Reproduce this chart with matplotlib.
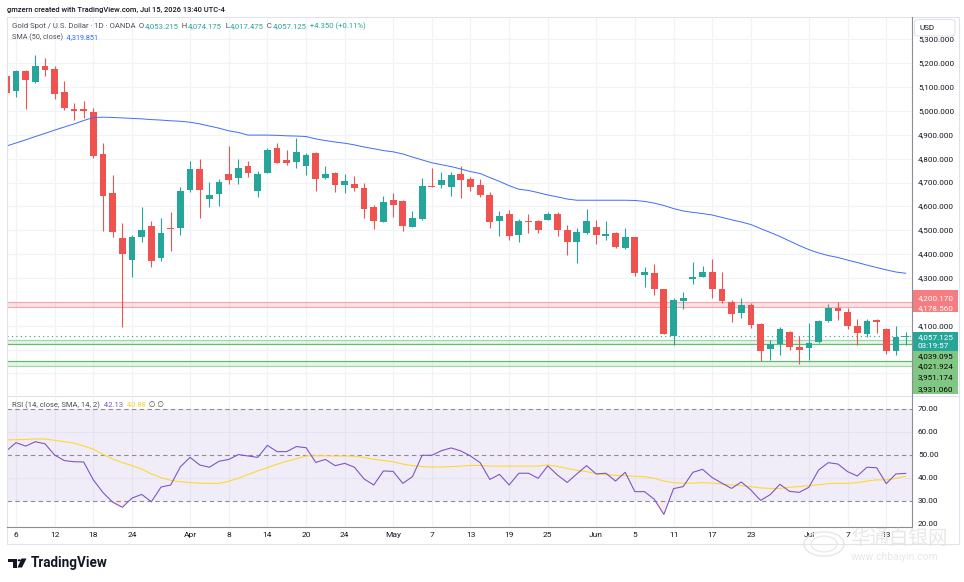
import matplotlib
matplotlib.use('Agg')
import matplotlib.pyplot as plt
import matplotlib.transforms as mtransforms
from matplotlib.patches import Rectangle, FancyBboxPatch, Polygon, Circle
import numpy as np

plt.rcParams['font.family'] = ['Roboto', 'DejaVu Sans']

# ---------------- data ----------------
opens = [5148, 5085, 5168, 5123, 5189, 5176, 5080, 5010, 5008, 4996,
         4821, 4655, 4468, 4377, 4473, 4518, 4385, 4508, 4511, 4668,
         4757, 4632, 4653, 4736, 4720, 4770, 4666, 4741, 4845, 4795,
         4786, 4770, 4823, 4720, 4741, 4690, 4694, 4677, 4596, 4536,
         4626, 4623, 4515, 4546, 4686, 4691, 4683, 4736, 4715, 4689,
         4648, 4540, 4567, 4479, 4537, 4539, 4544, 4567, 4501, 4451,
         4490, 4515, 4477, 4487, 4427, 4472, 4314, 4320, 4253, 4058,
         4205, 4297, 4305, 4325, 4253, 4199, 4152, 4187, 4107, 4001,
         4023, 4072, 4011, 4008, 4033, 4120, 4173, 4157, 4100, 4067,
         4123, 4086, 3995, 4053.215]
highs = [5193, 5172, 5170, 5235, 5221, 5189, 5126, 5035, 5042, 5011,
         4865, 4732, 4530, 4480, 4598, 4539, 4552, 4577, 4683, 4790,
         4799, 4702, 4715, 4853, 4799, 4790, 4747, 4844, 4867, 4837,
         4888, 4824, 4828, 4771, 4746, 4736, 4728, 4698, 4606, 4645,
         4658, 4627, 4582, 4718, 4760, 4743, 4743, 4770, 4725, 4714,
         4661, 4581, 4585, 4547, 4567, 4543, 4575, 4577, 4522, 4508,
         4589, 4543, 4539, 4494, 4510, 4473, 4347, 4359, 4255, 4217,
         4240, 4367, 4350, 4378, 4326, 4208, 4215, 4194, 4113, 4040,
         4093, 4079, 4057, 4110, 4124, 4191, 4198, 4173, 4128, 4128,
         4128, 4089, 4099, 4074.175]
lows = [5046, 5060, 5010, 5116, 5148, 5052, 5004, 4962, 4969, 4804,
        4497, 4473, 4096, 4304, 4452, 4347, 4373, 4413, 4480, 4662,
        4553, 4596, 4603, 4695, 4694, 4725, 4641, 4739, 4781, 4774,
        4762, 4733, 4666, 4714, 4662, 4655, 4663, 4550, 4507, 4536,
        4557, 4498, 4513, 4543, 4680, 4679, 4645, 4637, 4665, 4641,
        4508, 4476, 4459, 4450, 4487, 4487, 4543, 4477, 4398, 4362,
        4486, 4442, 4459, 4424, 4422, 4308, 4264, 4230, 4066, 4019,
        4171, 4275, 4305, 4217, 4194, 4117, 4134, 4089, 3953, 3956,
        3978, 3998, 3940, 3956, 4026, 4117, 4124, 4086, 4019, 4051,
        4071, 3983, 3978, 4017.475]
closes = [5077, 5168, 5131, 5189, 5172, 5073, 5014, 5001, 5001, 4811,
          4645, 4494, 4400, 4472, 4501, 4373, 4489, 4505, 4665, 4757,
          4669, 4647, 4702, 4712, 4761, 4741, 4736, 4837, 4783, 4783,
          4827, 4817, 4715, 4736, 4690, 4705, 4676, 4590, 4538, 4619,
          4607, 4519, 4551, 4686, 4683, 4712, 4732, 4711, 4683, 4647,
          4535, 4560, 4476, 4539, 4535, 4501, 4567, 4501, 4451, 4493,
          4538, 4480, 4484, 4429, 4471, 4322, 4325, 4255, 4066, 4207,
          4217, 4304, 4326, 4253, 4204, 4150, 4187, 4104, 3993, 4023,
          4085, 4012, 4000, 4026, 4120, 4173, 4160, 4100, 4071, 4120,
          4116, 3995, 4053, 4057.125]
sma50 = [4853, 4866, 4879, 4893, 4906, 4920, 4933, 4946, 4960, 4973,
         4974, 4973, 4971, 4969, 4967, 4964, 4962, 4959, 4957, 4953,
         4946, 4937, 4928, 4917, 4910, 4899, 4899, 4899, 4898, 4896,
         4895, 4893, 4883, 4876, 4870, 4865, 4858, 4849, 4842, 4834,
         4829, 4820, 4807, 4795, 4783, 4775, 4767, 4757, 4746, 4738,
         4721, 4705, 4687, 4672, 4667, 4658, 4648, 4640, 4631, 4626,
         4626, 4626, 4626, 4626, 4626, 4625, 4621, 4614, 4604, 4591,
         4581, 4575, 4570, 4564, 4554, 4544, 4535, 4524, 4507, 4491,
         4474, 4455, 4436, 4419, 4405, 4394, 4386, 4375, 4365, 4354,
         4344, 4334, 4325, 4319.851]
rsi = [51.9, 55.5, 54.0, 55.9, 55.0, 50.1, 47.7, 47.2, 47.1, 39.3,
       33.8, 29.6, 27.4, 31.4, 33.0, 29.8, 36.2, 37.1, 45.0, 49.1,
       45.8, 44.8, 47.4, 48.2, 50.3, 49.7, 49.1, 54.3, 51.6, 51.6,
       53.8, 53.3, 46.9, 48.2, 45.5, 46.5, 44.8, 39.7, 37.1, 43.2,
       43.0, 37.8, 40.7, 50.0, 50.0, 52.0, 53.2, 51.9, 49.7, 46.8,
       39.5, 41.7, 37.1, 42.2, 42.2, 40.0, 45.4, 41.4, 38.2, 41.9,
       45.5, 41.9, 42.2, 38.8, 42.6, 34.2, 34.2, 30.9, 24.3, 35.5,
       36.4, 42.6, 43.9, 40.3, 37.9, 35.6, 38.4, 34.9, 30.4, 32.9,
       37.4, 34.3, 33.9, 36.1, 43.6, 46.8, 46.2, 42.9, 41.0, 44.8,
       44.6, 37.7, 41.9, 42.13]
rsi_ma = [56.7, 56.8, 56.9, 57.1, 57.1, 56.5, 55.9, 55.3, 54.0, 52.7,
          50.4, 48.4, 46.8, 45.5, 44.0, 41.9, 40.3, 39.1, 38.5, 38.2,
          37.9, 37.8, 37.8, 38.7, 40.0, 41.7, 43.2, 44.6, 46.1, 47.4,
          48.5, 49.7, 49.8, 49.8, 49.7, 49.7, 49.6, 49.0, 48.3, 47.7,
          47.2, 46.2, 45.5, 45.1, 44.9, 44.9, 45.1, 45.3, 45.6, 45.6,
          45.3, 45.3, 45.3, 45.3, 45.3, 45.3, 45.8, 45.2, 44.3, 43.5,
          42.9, 42.0, 41.6, 41.3, 41.1, 40.9, 40.7, 40.0, 38.8, 38.1,
          37.9, 37.9, 38.1, 37.9, 37.5, 37.1, 36.8, 36.4, 35.8, 35.6,
          35.6, 36.1, 36.4, 36.8, 37.2, 37.7, 37.8, 37.8, 38.1, 38.8,
          39.3, 39.3, 40.0, 40.88]
tick_idx = [1, 5, 9, 13, 19, 23, 27, 31, 35, 40, 44, 48, 52, 56, 61, 65,
            69, 73, 77, 83, 87, 91]
tick_labels = ['6', '12', '18', '24', 'Apr', '8', '14', '20', '24', 'May',
               '7', '13', '19', '25', 'Jun', '5', '11', '17', '23', 'Jul',
               '7', '13']
price_ticks = [3900, 4000, 4100, 4200, 4300, 4400, 4500, 4600, 4700, 4800,
               4900, 5000, 5100, 5200, 5300]
price_labels_shown = [4100, 4300, 4400, 4500, 4600, 4700, 4800, 4900, 5000,
                      5100, 5200, 5300]
rsi_ticks = [20, 30, 40, 50, 60, 70]
red_zone = [4178.560, 4200.170]
green_zone_a = [4021.924, 4039.095]
green_zone_b = [3931.060, 3951.174]
last_price = 4057.125

# ---------------- style ----------------
TEAL = '#26a69a'
RED = '#ef5350'
DARK = '#131722'
GRAYTXT = '#4a4e59'
GRID = '#f0f3fa'
W, H = 964, 582


def fx(x):
    return x / W


def fy(y):
    return 1 - y / H


fig = plt.figure(figsize=(W / 100, H / 100), dpi=100)
fig.patch.set_facecolor('white')
renderer = fig.canvas.get_renderer()

ax = fig.add_axes([fx(7), fy(395), (912 - 7) / W, (395 - 17) / H])
ax2 = fig.add_axes([fx(7), fy(526), (912 - 7) / W, (526 - 396) / H])
for a in (ax, ax2):
    a.set_facecolor('white')
    for s in a.spines.values():
        s.set_visible(False)
    a.set_xticks([])
    a.set_yticks([])
    a.set_xlim(0.07, 93.66)
ax.set_ylim(3809.5, 5394.1)
ax2.set_ylim(19.26, 75.78)

n = len(opens)
x = np.arange(n)
o = np.array(opens, float)
c = np.array(closes, float)
hi = np.array(highs, float)
lo = np.array(lows, float)
cols = np.where(c >= o, TEAL, RED)

# grids
for t in tick_idx:
    ax.axvline(t, color=GRID, lw=0.9, zorder=0)
    ax2.axvline(t, color=GRID, lw=0.9, zorder=0)
for p in price_ticks:
    ax.axhline(p, color=GRID, lw=0.9, zorder=0)

# zones
ax.axhspan(red_zone[0], red_zone[1], color='#f23645', alpha=0.15, lw=0, zorder=1)
for v in red_zone:
    ax.axhline(v, color='#f7a7ad', lw=0.8, zorder=1)
ax.axhspan(green_zone_a[0], green_zone_a[1], color='#4caf50', alpha=0.13, lw=0, zorder=1)
ax.axhspan(green_zone_b[0], green_zone_b[1], color='#4caf50', alpha=0.13, lw=0, zorder=1)
ax.axhline(green_zone_a[1], color='#a5d6a7', lw=0.9, zorder=1)
ax.axhline(green_zone_a[0], color='#66bb6a', lw=0.9, zorder=1)
ax.axhline(green_zone_b[1], color='#66bb6a', lw=0.9, zorder=1)
ax.axhline(green_zone_b[0], color='#a5d6a7', lw=0.9, zorder=1)
ax.axhline(last_price, color=TEAL, lw=0.8, ls=(0, (1, 3)), zorder=2)

# candles
ax.vlines(x, lo, hi, colors=cols, lw=0.8, zorder=3)
ax.bar(x, np.maximum(np.abs(c - o), 4.0), bottom=np.minimum(o, c), width=0.7,
       color=cols, lw=0, zorder=4)
ax.plot(x, sma50, color='#3d6cff', lw=0.7, zorder=5)

# RSI panel
r = np.array(rsi)
ax2.axhspan(30, 70, color='#7e57c2', alpha=0.1, lw=0, zorder=0)
for v in (60, 40):
    ax2.axhline(v, color='#e6e1f3', lw=0.8, zorder=1)
for v in (70, 50, 30):
    ax2.axhline(v, color='#8a8d96', lw=0.8, ls=(0, (4, 3)), zorder=1)
ax2.fill_between(x, r, 30, where=r < 30, interpolate=True, color='#f23645',
                 alpha=0.1, lw=0, zorder=2)
ax2.plot(x, rsi_ma, color='#fdd835', lw=0.8, zorder=3)
ax2.plot(x, r, color='#7e57c2', lw=0.8, zorder=4)

# frame / separators
fig.add_artist(Rectangle((fx(6.5), fy(543.5)), (958.5 - 6.5) / W, (543.5 - 16.5) / H,
                         transform=fig.transFigure, fill=False, ec='#e0e3eb', lw=0.8, zorder=1))
fig.add_artist(plt.Line2D([fx(7), fx(958)], [fy(395.5), fy(395.5)], color='#e0e3eb',
                          lw=0.8, transform=fig.transFigure, zorder=6))
fig.add_artist(plt.Line2D([fx(7), fx(912)], [fy(526.5), fy(526.5)], color='#8a8d96',
                          lw=0.8, transform=fig.transFigure, zorder=6))
fig.add_artist(plt.Line2D([fx(912), fx(912)], [fy(17), fy(526.5)], color='#8a8d96',
                          lw=0.8, transform=fig.transFigure, zorder=6))

# price axis labels
bl = mtransforms.blended_transform_factory(fig.transFigure, ax.transData)
for p in price_labels_shown:
    fig.text(fx(918), p, f'{p:,.3f}', transform=bl, fontsize=5.9, color=DARK,
             va='center', ha='left', zorder=2)
bl2 = mtransforms.blended_transform_factory(fig.transFigure, ax2.transData)
for v in rsi_ticks:
    fig.text(fx(918), v, f'{v:.2f}', transform=bl2, fontsize=5.9, color=DARK,
             va='center', ha='left', zorder=2)
# cover below RSI axis (cut 20.00 label)
fig.add_artist(Rectangle((fx(912.5), fy(543)), 45 / W, (543 - 527) / H,
                         transform=fig.transFigure, fc='white', ec='none', zorder=3))

# date labels
bx = mtransforms.blended_transform_factory(ax2.transData, fig.transFigure)
for t, lab in zip(tick_idx, tick_labels):
    fig.text(t, fy(535), lab, transform=bx, fontsize=6.0, color=DARK,
             ha='center', va='center', zorder=2)

# USD box
fig.add_artist(FancyBboxPatch((fx(914.5), fy(36)), 40.5 / W, 16.5 / H,
                              boxstyle='round,pad=0,rounding_size=0.004',
                              transform=fig.transFigure, fc='white', ec='#e0e3eb',
                              lw=0.8, zorder=4))
fig.text(fx(920), fy(28), 'USD', fontsize=5.9, color=DARK, va='center', zorder=5)


def label_box(y0, y1, color):
    fig.add_artist(Rectangle((fx(912.5), fy(y1)), (957.5 - 912.5) / W, (y1 - y0) / H,
                             transform=fig.transFigure, fc=color, ec='none', zorder=4))


label_box(290, 312.3, '#f77c80')
fig.text(fx(918), fy(297.7), f'{red_zone[1]:,.3f}', fontsize=5.9, color='white', va='center', zorder=5)
fig.text(fx(918), fy(308.3), f'{red_zone[0]:,.3f}', fontsize=5.9, color='white', va='center', zorder=5)
label_box(332.3, 350.7, TEAL)
fig.text(fx(918), fy(337), f'{last_price:,.3f}', fontsize=5.9, color='white', va='center', zorder=5)
fig.text(fx(918), fy(346), '03:19:57', fontsize=5.9, color='white', va='center', zorder=5)
label_box(350.7, 394.3, '#81c784')
for val, yy in zip([green_zone_a[1], green_zone_a[0], green_zone_b[1], green_zone_b[0]],
                   [356, 366.5, 376.7, 388.7]):
    fig.text(fx(918), fy(yy), f'{val:,.3f}', fontsize=5.9, color='black', va='center', zorder=5)


# header texts (sized to the reference's text widths)
def fit_text(x_px, y_px, s, target_w, base=6.0, **kw):
    t = fig.text(fx(x_px), fy(y_px), s, fontsize=base, va='center', ha='left', zorder=5, **kw)
    w = t.get_window_extent(renderer).width
    size = base * target_w / w
    t.set_fontsize(size)
    return t, size


def seq_text(x_px, y_px, parts, target_first):
    s0, c0 = parts[0]
    t, size = fit_text(x_px, y_px, s0, target_first, color=c0)
    xx = t.get_window_extent(renderer).x1
    for s, col in parts[1:]:
        t = fig.text(fx(xx), fy(y_px), s, color=col, fontsize=size, va='center',
                     ha='left', zorder=5)
        xx = t.get_window_extent(renderer).x1


fit_text(6.7, 10, 'gmzern created with TradingView.com, Jul 15, 2026 13:40 UTC-4', 220.5,
         color=DARK, fontweight='medium')
seq_text(11.7, 26.3, [('Gold Spot / U.S. Dollar \u00b7 1D \u00b7 OANDA', GRAYTXT),
                      ('  O', GRAYTXT), ('4,053.215', TEAL),
                      ('  H', GRAYTXT), ('4,074.175', TEAL),
                      ('  L', GRAYTXT), ('4,017.475', TEAL),
                      ('  C', GRAYTXT), ('4,057.125', TEAL),
                      ('  +4.350 (+0.11%)', TEAL)], 125)
seq_text(11.7, 37.3, [('SMA (50, close)', GRAYTXT), ('  4,319.851', '#2962ff')], 51)
seq_text(11.7, 405, [('RSI (14, close, SMA, 14, 2)', GRAYTXT), ('  42.13', '#7e57c2'),
                     ('  40.88', '#f2d43a'), ('  \u2205 \u2205', GRAYTXT)], 88)

# TradingView logo
logo = [Polygon([(fx(7.5), fy(558.5)), (fx(17), fy(558.5)), (fx(17), fy(567.5)),
                 (fx(13), fy(567.5)), (fx(13), fy(562)), (fx(7.5), fy(562))],
                closed=True, transform=fig.transFigure, fc=DARK, ec='none'),
        Polygon([(fx(21.5), fy(558.5)), (fx(26.5), fy(558.5)), (fx(22), fy(567.5)),
                 (fx(17.5), fy(567.5))],
                closed=True, transform=fig.transFigure, fc=DARK, ec='none')]
for pch in logo:
    fig.add_artist(pch)
fig.add_artist(Circle((fx(19.3), fy(560.3)), 1.7 / W, transform=fig.transFigure,
                      fc=DARK, ec='none'))
fit_text(30.5, 563, 'TradingView', 77, base=10, color=DARK, fontweight='bold')

# faint watermark
fig.add_artist(Circle((fx(824), fy(544)), 20 / W, transform=fig.transFigure,
                      fill=False, ec='#e4e4e4', lw=1.2, alpha=0.8, zorder=7))
fig.add_artist(Circle((fx(824), fy(544)), 13 / W, transform=fig.transFigure,
                      fill=False, ec='#e4e4e4', lw=1.0, alpha=0.8, zorder=7))
fig.text(fx(850), fy(538), '华通白银网', fontsize=14, color='#e2e2e2', alpha=0.8,
         family=['Noto Sans CJK SC', 'DejaVu Sans'], va='center', zorder=7)
fig.text(fx(851), fy(557), 'www.chbaiyin.com', fontsize=7.5, color='#e2e2e2', alpha=0.8,
         va='center', zorder=7)

fig.savefig('out.png', dpi=100, facecolor='white')
